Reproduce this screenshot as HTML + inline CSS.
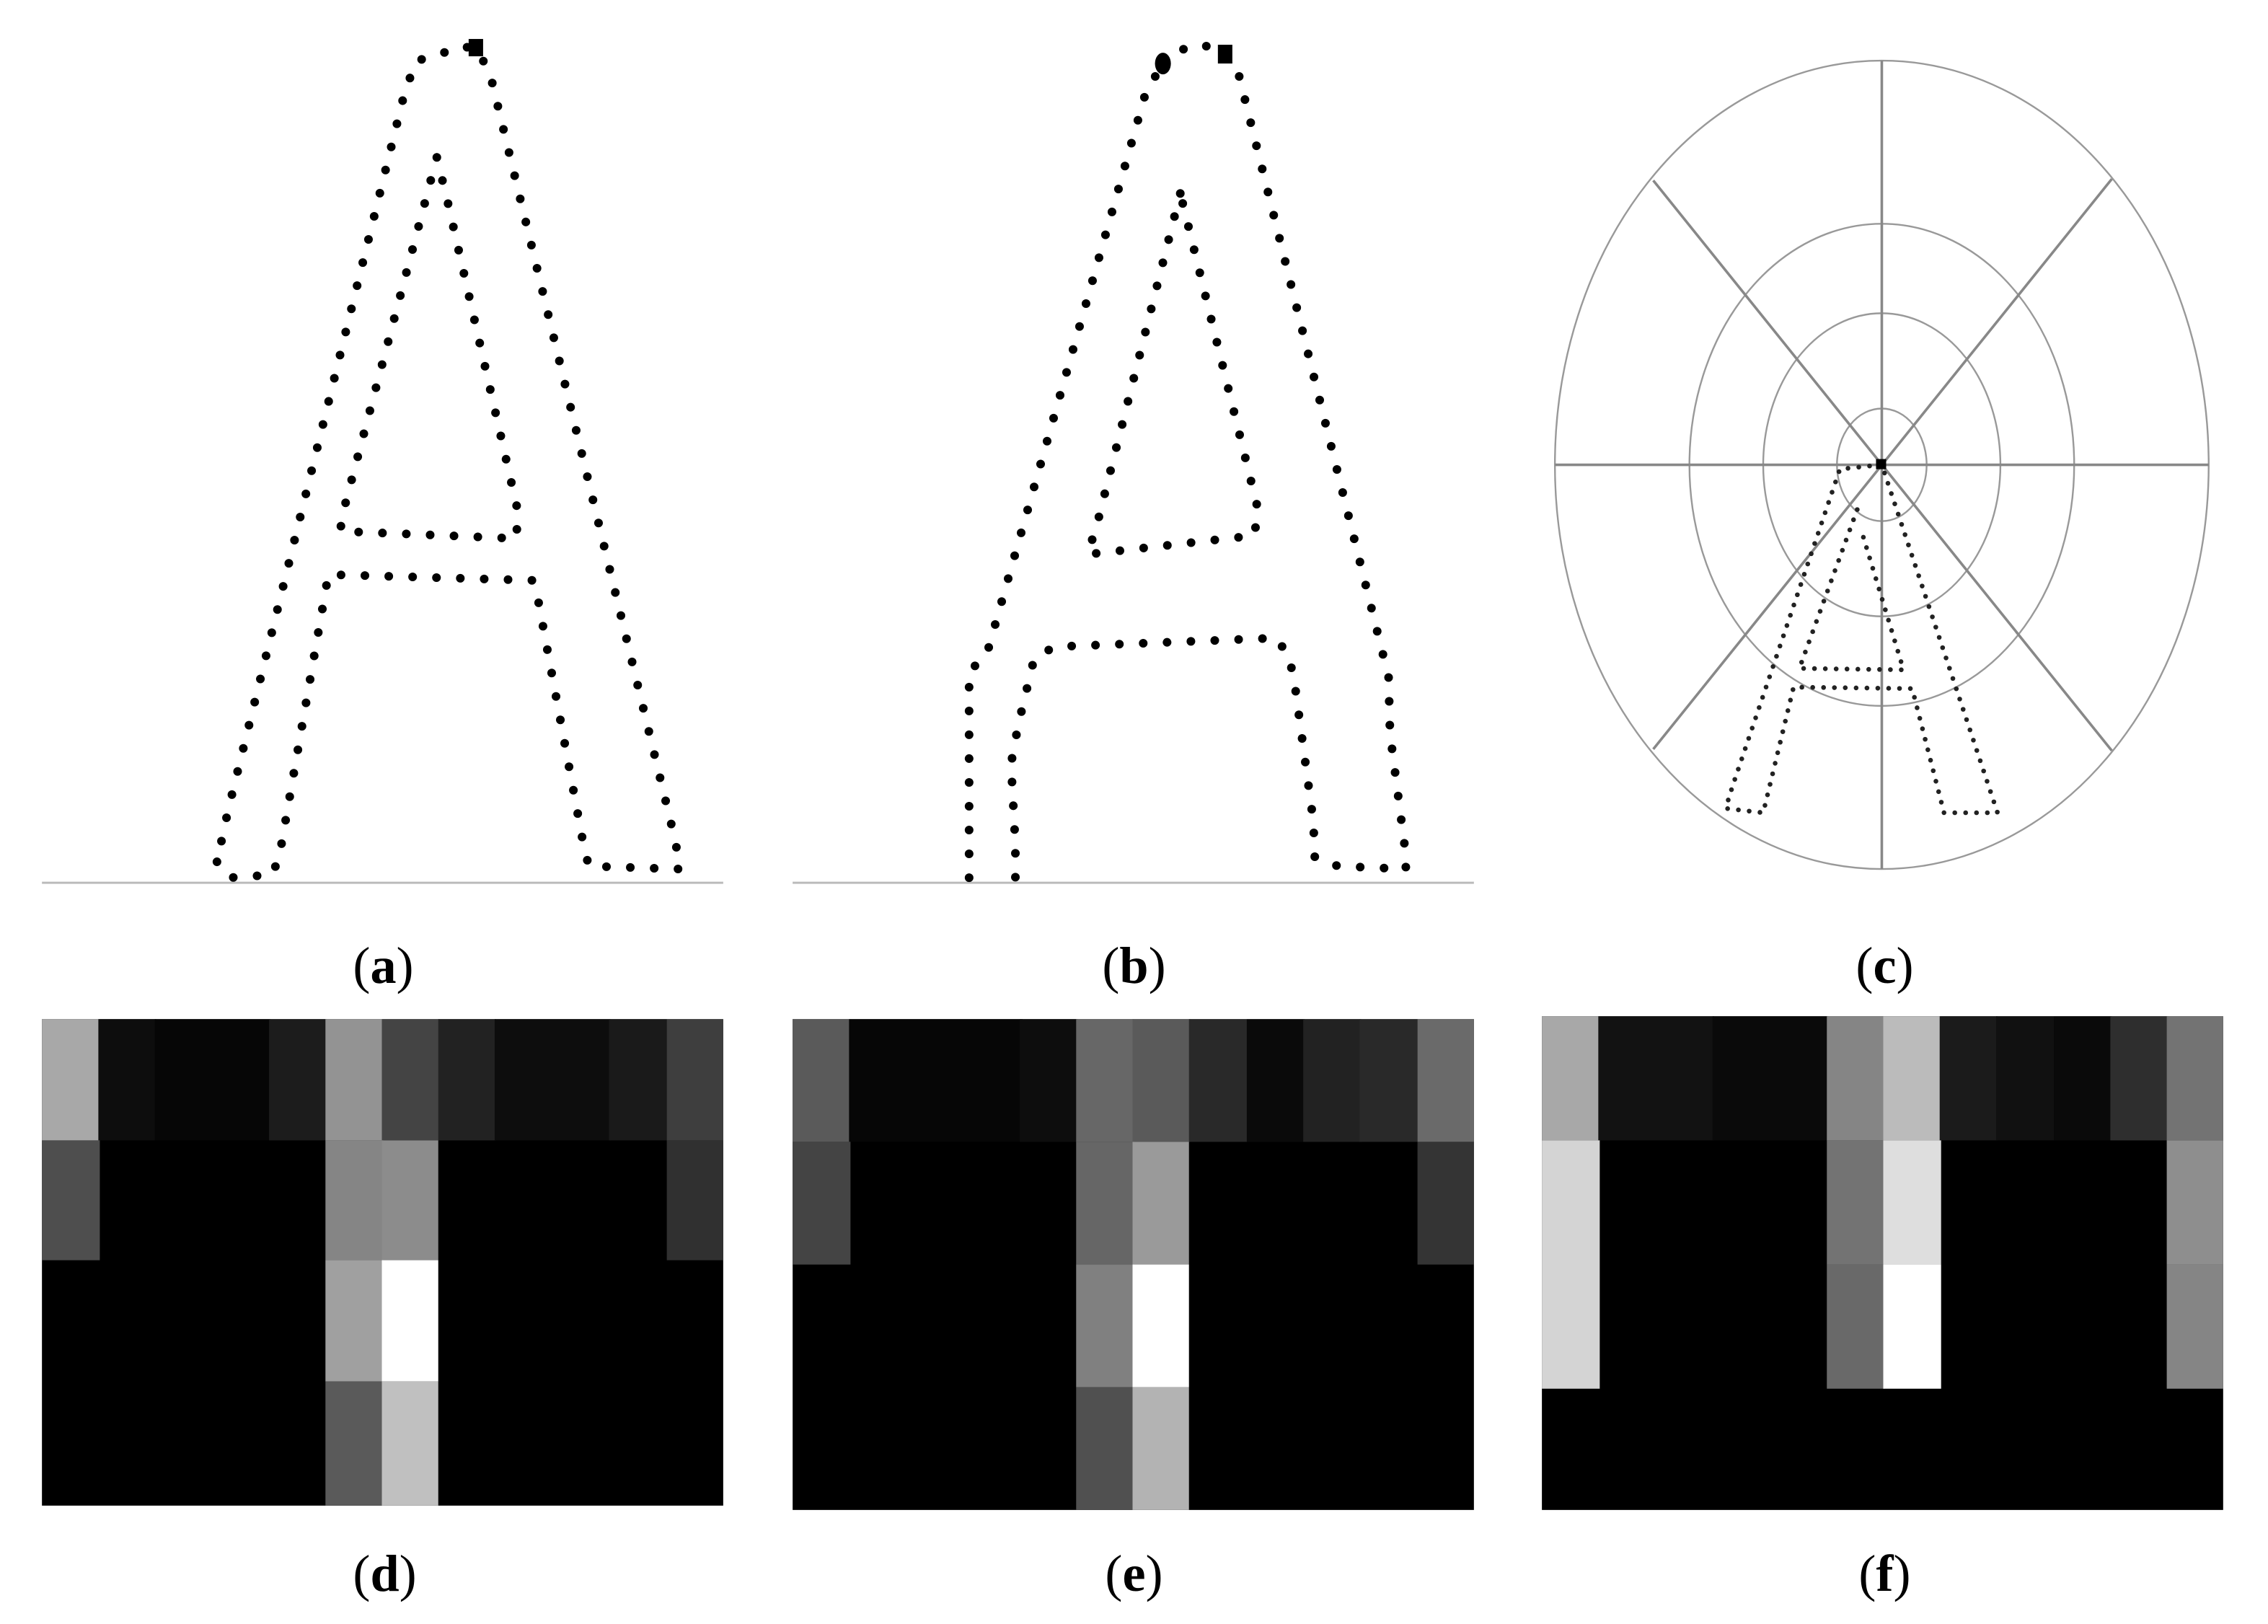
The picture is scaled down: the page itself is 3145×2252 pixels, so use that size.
<!DOCTYPE html>
<html><head><meta charset="utf-8"><style>
html,body{margin:0;padding:0;background:#fff;width:3145px;height:2252px;overflow:hidden}
svg{display:block}
text{font-family:"Liberation Serif",serif;font-size:36px;fill:#000}
</style></head><body>
<svg width="3145" height="2252" viewBox="0 0 1568 1125" preserveAspectRatio="none" xmlns="http://www.w3.org/2000/svg">
<rect width="1568" height="1125" fill="#fff"/>
<!-- (a) -->
<line x1="29" y1="611.5" x2="500" y2="611.5" stroke="#bbb" stroke-width="1.5"/>
<g fill="none" stroke="#000" stroke-width="6" stroke-linecap="round" stroke-dasharray="0 16.5">
<path d="M150,597 L159,608 L188,606 L193,594 L227,398 L368,402 L371,410 L403,583 L407,600 L470,602 L467,583 L339,52 L330,34 L319,32 L300,39 L288,42 L280,63 L158,560 Z"/>
<path d="M302,109 L239,348 L235,368 L357,373 L358,354 L310,142 Z"/>
</g>
<rect x="324" y="27" width="10" height="12" fill="#000"/>
<!-- (b) -->
<line x1="548" y1="611.5" x2="1019" y2="611.5" stroke="#bbb" stroke-width="1.5"/>
<g fill="none" stroke="#000" stroke-width="6" stroke-linecap="round" stroke-dasharray="0 16.5">
<path d="M805,44 L821,32 L837,32 L848,38 L856,50 L960,469 L961,508 L971,585 L972,602 L925,600 L909,594 L908,569 L895,473 L891,454 L882,442 L729,448 L715,456 L704,502 L699,529 L702,585 L702,612"/>
<path d="M670,608 L670,465 L682,454 L793,61 L805,44"/>
<path d="M816,134 L759,361 L752,384 L867,371 L870,354 Z"/>
</g>
<ellipse cx="804" cy="44" rx="5.5" ry="7.5" fill="#000"/>
<rect x="842" y="31" width="10" height="13" fill="#000"/>
<!-- (c) -->
<g fill="none" stroke="#999" stroke-width="1.2">
<ellipse cx="1301" cy="322" rx="226" ry="280"/>
<ellipse cx="1301" cy="322" rx="133" ry="167"/>
<ellipse cx="1301" cy="322" rx="82" ry="105"/>
<ellipse cx="1301" cy="322" rx="31" ry="39"/>
</g>
<g stroke="#888" stroke-width="1.8">
<line x1="1075" y1="322" x2="1527" y2="322"/>
<line x1="1301" y1="42" x2="1301" y2="602"/>
<line x1="1143" y1="125" x2="1460" y2="520"/>
<line x1="1460" y1="124" x2="1143" y2="519"/>
</g>
<g fill="none" stroke="#222" stroke-width="3.3" stroke-linecap="round" stroke-dasharray="0 7.5">
<path d="M1300,322 L1272,325 L1198,544 L1193,560 L1219,563 L1240,476 L1322,477 L1344,563 L1381,563 L1302,325"/>
<path d="M1284,353 L1244,463 L1316,464 L1287,368"/>
</g>
<rect x="1297" y="318" width="7" height="7" fill="#000"/>
<!-- heatmaps -->
<g id="d">
<rect x="29" y="706" width="471" height="337" fill="#000"/>
<rect x="29" y="706" width="40" height="84" fill="#a8a8a8"/>
<rect x="68" y="706" width="40" height="84" fill="#0d0d0d"/>
<rect x="107" y="706" width="80" height="84" fill="#060606"/>
<rect x="186" y="706" width="40" height="84" fill="#1c1c1c"/>
<rect x="225" y="706" width="40" height="84" fill="#939393"/>
<rect x="264" y="706" width="40" height="84" fill="#444"/>
<rect x="303" y="706" width="40" height="84" fill="#222"/>
<rect x="342" y="706" width="80" height="84" fill="#0d0d0d"/>
<rect x="421" y="706" width="40" height="84" fill="#1a1a1a"/>
<rect x="461" y="706" width="39" height="84" fill="#3e3e3e"/>
<rect x="29" y="790" width="40" height="83" fill="#4e4e4e"/>
<rect x="225" y="790" width="40" height="83" fill="#858585"/>
<rect x="264" y="790" width="39" height="83" fill="#8c8c8c"/>
<rect x="461" y="790" width="39" height="83" fill="#303030"/>
<rect x="225" y="873" width="40" height="84" fill="#a0a0a0"/>
<rect x="264" y="873" width="39" height="84" fill="#fff"/>
<rect x="225" y="957" width="40" height="86" fill="#5a5a5a"/>
<rect x="264" y="957" width="39" height="86" fill="#c0c0c0"/>
</g>
<g id="e">
<rect x="548" y="706" width="471" height="340" fill="#000"/>
<rect x="548" y="706" width="40" height="85" fill="#5a5a5a"/>
<rect x="587" y="706" width="120" height="85" fill="#060606"/>
<rect x="705" y="706" width="40" height="85" fill="#0d0d0d"/>
<rect x="744" y="706" width="40" height="85" fill="#676767"/>
<rect x="783" y="706" width="40" height="85" fill="#5a5a5a"/>
<rect x="822" y="706" width="40" height="85" fill="#292929"/>
<rect x="862" y="706" width="40" height="85" fill="#0a0a0a"/>
<rect x="901" y="706" width="40" height="85" fill="#222"/>
<rect x="940" y="706" width="40" height="85" fill="#292929"/>
<rect x="980" y="706" width="39" height="85" fill="#6a6a6a"/>
<rect x="548" y="791" width="40" height="85" fill="#444"/>
<rect x="744" y="791" width="40" height="85" fill="#666"/>
<rect x="783" y="791" width="39" height="85" fill="#9a9a9a"/>
<rect x="980" y="791" width="39" height="85" fill="#343434"/>
<rect x="744" y="876" width="40" height="85" fill="#808080"/>
<rect x="783" y="876" width="39" height="85" fill="#fff"/>
<rect x="744" y="961" width="40" height="85" fill="#505050"/>
<rect x="783" y="961" width="39" height="85" fill="#b3b3b3"/>
</g>
<g id="f">
<rect x="1066" y="704" width="471" height="342" fill="#000"/>
<rect x="1066" y="704" width="40" height="86" fill="#a8a8a8"/>
<rect x="1105" y="704" width="80" height="86" fill="#121212"/>
<rect x="1184" y="704" width="80" height="86" fill="#0a0a0a"/>
<rect x="1263" y="704" width="40" height="86" fill="#858585"/>
<rect x="1302" y="704" width="40" height="86" fill="#bbbbbb"/>
<rect x="1341" y="704" width="40" height="86" fill="#1b1b1b"/>
<rect x="1380" y="704" width="40" height="86" fill="#111"/>
<rect x="1420" y="704" width="40" height="86" fill="#0a0a0a"/>
<rect x="1459" y="704" width="40" height="86" fill="#2e2e2e"/>
<rect x="1498" y="704" width="39" height="86" fill="#737373"/>
<rect x="1066" y="790" width="40" height="172" fill="#d4d4d4"/>
<rect x="1263" y="790" width="40" height="86" fill="#737373"/>
<rect x="1302" y="790" width="40" height="86" fill="#dedede"/>
<rect x="1498" y="790" width="39" height="86" fill="#8e8e8e"/>
<rect x="1263" y="876" width="40" height="86" fill="#696969"/>
<rect x="1302" y="876" width="40" height="86" fill="#fff"/>
<rect x="1498" y="876" width="39" height="86" fill="#858585"/>
</g>
<!-- labels -->
<g text-anchor="middle">
<text x="265" y="681">(<tspan font-weight="bold">a</tspan>)</text>
<text x="784" y="681">(<tspan font-weight="bold">b</tspan>)</text>
<text x="1303" y="681">(<tspan font-weight="bold">c</tspan>)</text>
<text x="266" y="1102">(<tspan font-weight="bold">d</tspan>)</text>
<text x="784" y="1102">(<tspan font-weight="bold">e</tspan>)</text>
<text x="1303" y="1102">(<tspan font-weight="bold">f</tspan>)</text>
</g>
</svg>
</body></html>
